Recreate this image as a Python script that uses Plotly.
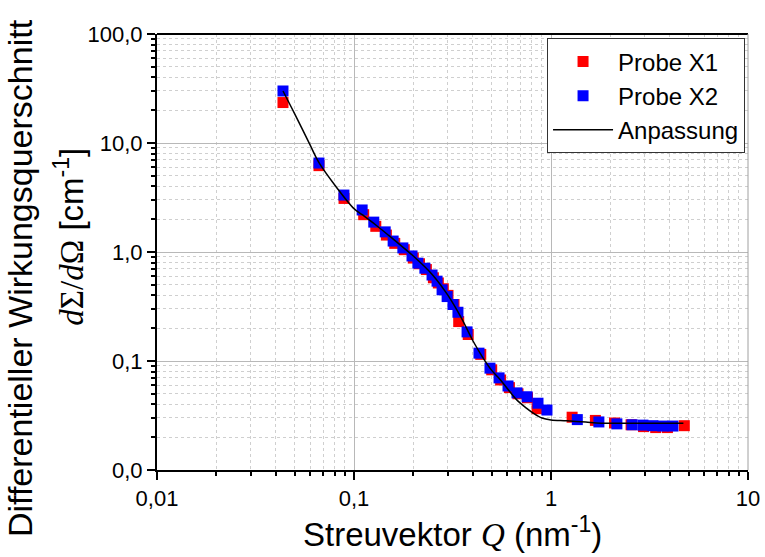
import plotly.graph_objects as go

# Probe X1 (red)
q_x1 = [0.0436, 0.0664, 0.089, 0.112, 0.129, 0.146, 0.161, 0.180, 0.200, 0.215, 0.233, 0.253,
        0.268, 0.284, 0.300, 0.322, 0.340, 0.380, 0.440, 0.500, 0.555, 0.615, 0.680, 0.760,
        0.850, 1.28, 1.68, 2.10, 2.55, 2.95, 3.40, 3.90, 4.75]
i_x1 = [23.5, 6.2, 3.1, 2.2, 1.72, 1.43, 1.20, 1.05, 0.88, 0.78, 0.69, 0.58,
        0.52, 0.46, 0.40, 0.33, 0.23, 0.175, 0.115, 0.083, 0.067, 0.057, 0.050, 0.046,
        0.0365, 0.0305, 0.0285, 0.027, 0.026, 0.025, 0.0245, 0.0245, 0.0255]

# Probe X2 (blue)
q_x2 = [0.0436, 0.0664, 0.0889, 0.110, 0.126, 0.144, 0.158, 0.177, 0.197, 0.211, 0.229, 0.249,
        0.264, 0.280, 0.297, 0.318, 0.337, 0.375, 0.431, 0.490, 0.545, 0.605, 0.672, 0.756,
        0.859, 0.954, 1.36, 1.75, 2.16, 2.58, 2.93, 3.29, 3.70, 4.16]
i_x2 = [30.0, 6.55, 3.33, 2.43, 1.88, 1.53, 1.26, 1.09, 0.92, 0.79, 0.71, 0.615,
        0.54, 0.45, 0.39, 0.33, 0.28, 0.185, 0.118, 0.086, 0.070, 0.059, 0.051, 0.047,
        0.041, 0.0355, 0.029, 0.0276, 0.0265, 0.026, 0.0258, 0.0255, 0.0253, 0.0253]

# Anpassung (fit curve)
q_fit = [0.0436, 0.05, 0.06, 0.0664, 0.08, 0.1, 0.11, 0.13, 0.15, 0.18, 0.2, 0.25, 0.3, 0.35,
         0.4, 0.45, 0.5, 0.55, 0.6, 0.67, 0.75, 0.81, 0.9, 1.0, 1.2, 1.5, 1.8, 2.5, 3.5, 4.7]
i_fit = [30, 18.5, 9.5, 6.6, 4.1, 2.5, 2.2, 1.75, 1.42, 1.08, 0.92, 0.62, 0.40, 0.25,
         0.155, 0.108, 0.082, 0.068, 0.056, 0.044, 0.037, 0.0334, 0.030, 0.0288, 0.0283,
         0.0275, 0.0269, 0.0268, 0.0268, 0.0268]

x_tickvals = [0.01, 0.1, 1, 10]
x_ticktext = ["0,01", "0,1", "1", "10"]
y_tickvals = [0.01, 0.1, 1, 10, 100]
y_ticktext = ["0,0", "0,1", "1,0", "10,0", "100,0"]

FONT = "Liberation Sans, Arial, sans-serif"
SERIF = "Liberation Serif, Times New Roman, serif"


def minor_vals(lo_exp, hi_exp):
    vals = []
    for e in range(lo_exp, hi_exp):
        for m in range(2, 10):
            vals.append(m * 10 ** e)
    return vals


fig = go.Figure()
fig.add_trace(go.Scatter(x=q_x1, y=i_x1, mode="markers", name="Probe X1",
                         marker=dict(symbol="square", size=11, color="#ff0000", line=dict(width=0))))
fig.add_trace(go.Scatter(x=q_x2, y=i_x2, mode="markers", name="Probe X2",
                         marker=dict(symbol="square", size=11, color="#0000ff", line=dict(width=0))))
fig.add_trace(go.Scatter(x=q_fit, y=i_fit, mode="lines", name="Anpassung",
                         line=dict(color="black", width=1.5, shape="spline")))

axis_common = dict(
    type="log",
    showline=True, linecolor="black", linewidth=2,
    ticks="outside", ticklen=8, tickwidth=1.5, tickcolor="black",
    showgrid=True, gridcolor="#b8b8b8", gridwidth=1,
    tickfont=dict(family=FONT, size=22, color="black"),
    zeroline=False,
    automargin=False,
)

fig.update_xaxes(
    **axis_common,
    range=[-2, 1],
    tickmode="array", tickvals=x_tickvals, ticktext=x_ticktext,
    minor=dict(tickmode="array", tickvals=minor_vals(-2, 1), ticks="outside", ticklen=4,
               tickcolor="black", showgrid=True, gridcolor="#cfcfcf", griddash="dot", gridwidth=1),
)
fig.update_yaxes(
    **axis_common,
    range=[-2, 2],
    tickmode="array", tickvals=y_tickvals, ticktext=y_ticktext,
    minor=dict(tickmode="array", tickvals=minor_vals(-2, 2), ticks="outside", ticklen=4,
               tickcolor="black", showgrid=True, gridcolor="#cfcfcf", griddash="dot", gridwidth=1),
)

# top border (black) and right border (gray)
fig.add_shape(type="line", xref="paper", yref="paper", x0=0, x1=1, y0=1, y1=1,
              line=dict(color="black", width=2))
fig.add_shape(type="line", xref="paper", yref="paper", x0=1, x1=1, y0=0, y1=1,
              line=dict(color="#a0a0a0", width=1))

# x axis title
fig.add_annotation(text="Streuvektor <span style='font-family:" + SERIF + "'><i>Q</i></span> (nm<sup>-1</sup>)",
                   xref="paper", yref="paper", x=0.5, y=-0.142, showarrow=False,
                   font=dict(family=FONT, size=33, color="black"), xanchor="center", yanchor="middle")

# y axis title in two lines
fig.add_annotation(text="Differentieller Wirkungsquerschnitt", xref="paper", yref="paper",
                   x=-0.232, y=0.44, textangle=-90, showarrow=False,
                   font=dict(family=FONT, size=34, color="black"), xanchor="center", yanchor="middle")
fig.add_annotation(text="<span style='font-family:" + SERIF + "'><i>d</i>Σ/<i>d</i>Ω</span> [cm<sup>-1</sup>]",
                   xref="paper", yref="paper",
                   x=-0.148, y=0.534, textangle=-90, showarrow=False,
                   font=dict(family=FONT, size=33, color="black"), xanchor="center", yanchor="middle")

fig.update_layout(
    width=765, height=557,
    margin=dict(l=157, r=17, t=34, b=87),
    paper_bgcolor="white", plot_bgcolor="white",
    font=dict(family=FONT, color="black"),
    showlegend=True,
    legend=dict(x=0.995, y=0.99, xanchor="right", yanchor="top",
                bgcolor="white", bordercolor="#333333", borderwidth=1,
                font=dict(family=FONT, size=24, color="black"),
                itemwidth=60, tracegroupgap=0),
)

fig.write_html("out.html")
